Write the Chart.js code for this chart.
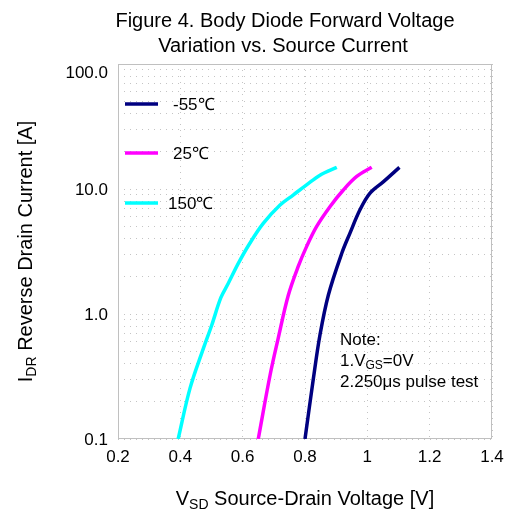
<!DOCTYPE html>
<html>
<head>
<meta charset="utf-8">
<script src="https://cdn.jsdelivr.net/npm/chart.js@4/dist/chart.umd.min.js"></script>
<style>
  html, body { margin: 0; padding: 0; background: #fff; }
  #wrap { width: 506px; height: 514px; }
</style>
</head>
<body>
<div id="wrap"><canvas id="chart" width="506" height="514"></canvas></div>
<script>
// series data: VSD [V] vs IDR [A]
const seriesNames = ['-55\u2103', '25\u2103', '150\u2103'];
const seriesColors = ['#000080', '#ff00ff', '#00ffff'];

const vsdCold = [0.800, 0.827, 0.848, 0.875, 0.918, 0.944, 0.976, 1.008, 1.051, 1.103];
const idrCold = [0.10, 0.306, 0.679, 1.42, 3.06, 4.42, 6.79, 9.23, 11.4, 14.9];

const vsdRoom = [0.650, 0.688, 0.714, 0.746, 0.778, 0.805, 0.837, 0.880, 0.923, 0.966, 1.014];
const idrRoom = [0.10, 0.325, 0.639, 1.40, 2.39, 3.46, 5.0, 7.22, 9.82, 12.6, 14.9];

const vsdHot = [0.393, 0.431, 0.474, 0.501, 0.530, 0.554, 0.586, 0.623, 0.666, 0.720, 0.762, 0.805, 0.848, 0.902];
const idrHot = [0.10, 0.254, 0.531, 0.817, 1.35, 1.76, 2.54, 3.68, 5.31, 7.45, 8.95, 10.8, 12.9, 14.9];

// axis ticks
const xTickValues = [0.2, 0.4, 0.6, 0.8, 1.0, 1.2, 1.4];
const xTickLabels = ['0.2', '0.4', '0.6', '0.8', '1', '1.2', '1.4'];
const yDecades = [0.1, 1, 10, 100];
const yDecadeLabels = ['0.1', '1.0', '10.0', '100.0'];
const yMinorFactors = [2, 3, 4, 5, 6, 7, 8, 9];

const FONT = 'Arial, "Liberation Sans", sans-serif';

function toPoints(xs, ys) {
    return xs.map((x, i) => ({ x: x, y: ys[i] }));
}

// all log grid positions (decades plus minor steps)
const yTickValues = [];
yDecades.forEach((d, i) => {
    yTickValues.push(d);
    if (i < yDecades.length - 1) {
        yMinorFactors.forEach(f => yTickValues.push(+(d * f).toPrecision(3)));
    }
});

// draw a run of text pieces, some of them subscripts
function drawParts(ctx, parts, x, y, size) {
    let cx = x;
    parts.forEach(p => {
        const s = p.sub ? Math.round(size * 0.68) : size;
        ctx.font = s + 'px ' + FONT;
        ctx.fillText(p.t, cx, y + (p.sub ? size * 0.2 : 0));
        cx += ctx.measureText(p.t).width;
    });
    return cx - x;
}
function partsWidth(ctx, parts, size) {
    let w = 0;
    parts.forEach(p => {
        const s = p.sub ? Math.round(size * 0.68) : size;
        ctx.font = s + 'px ' + FONT;
        w += ctx.measureText(p.t).width;
    });
    return w;
}

const decorPlugin = {
    id: 'decor',
    beforeDatasetsDraw(chart) {
        // plot frame
        const a = chart.chartArea;
        const ctx = chart.ctx;
        ctx.save();
        ctx.strokeStyle = '#c0c0c0';
        ctx.lineWidth = 1;
        ctx.setLineDash([]);
        ctx.strokeRect(a.left + 0.5, a.top + 0.5, a.right - a.left - 1, a.bottom - a.top - 1);
        ctx.restore();
    },
    afterDraw(chart) {
        const ctx = chart.ctx;
        const a = chart.chartArea;
        const yScale = chart.scales.y;
        ctx.save();
        ctx.fillStyle = '#000';
        ctx.textBaseline = 'alphabetic';

        // y tick labels (top one kept inside like the original)
        ctx.textAlign = 'right';
        ctx.font = '17px ' + FONT;
        yDecades.forEach((d, i) => {
            const py = Math.max(yScale.getPixelForValue(d), a.top + 8);
            ctx.fillText(yDecadeLabels[i], a.left - 10, py + 6);
        });

        // title
        ctx.textAlign = 'center';
        ctx.font = '20px ' + FONT;
        ctx.fillText('Figure 4. Body Diode Forward Voltage', 285, 27);
        ctx.fillText('Variation vs. Source Current', 283, 52);

        // x axis title
        ctx.textAlign = 'left';
        const xt = [{ t: 'V' }, { t: 'SD', sub: true }, { t: ' Source-Drain Voltage [V]' }];
        const xw = partsWidth(ctx, xt, 20);
        drawParts(ctx, xt, (a.left + a.right) / 2 - xw / 2, 505, 20);

        // y axis title (rotated)
        const yt = [{ t: 'I' }, { t: 'DR', sub: true }, { t: ' Reverse Drain Current [A]' }];
        const yw = partsWidth(ctx, yt, 20);
        ctx.save();
        ctx.translate(32, (a.top + a.bottom) / 2);
        ctx.rotate(-Math.PI / 2);
        drawParts(ctx, yt, -yw / 2, 0, 20);
        ctx.restore();

        // legend inside the plot
        const legendY = [104, 153, 203];
        const legendTextX = [173, 173, 168];
        chart.data.datasets.forEach((ds, i) => {
            ctx.strokeStyle = ds.borderColor;
            ctx.lineWidth = 3.5;
            ctx.beginPath();
            ctx.moveTo(125, legendY[i]);
            ctx.lineTo(158, legendY[i]);
            ctx.stroke();
            ctx.font = '17px ' + FONT;
            ctx.fillStyle = '#000';
            ctx.fillText(ds.label, legendTextX[i], legendY[i] + 6);
        });

        // note
        ctx.font = '17px ' + FONT;
        ctx.fillText('Note:', 340, 345);
        drawParts(ctx, [{ t: '1.V' }, { t: 'GS', sub: true }, { t: '=0V' }], 340, 366, 17);
        ctx.font = '17px ' + FONT;
        ctx.fillText('2.250\u03bcs pulse test', 340, 387);
        ctx.restore();
    }
};

new Chart(document.getElementById('chart'), {
    type: 'line',
    data: {
        datasets: [
            { label: seriesNames[0], data: toPoints(vsdCold, idrCold), borderColor: seriesColors[0] },
            { label: seriesNames[1], data: toPoints(vsdRoom, idrRoom), borderColor: seriesColors[1] },
            { label: seriesNames[2], data: toPoints(vsdHot, idrHot), borderColor: seriesColors[2] }
        ]
    },
    options: {
        responsive: false,
        animation: false,
        layout: { padding: { left: 0, top: 64, right: 14, bottom: 0 } },
        elements: {
            line: { borderWidth: 3.5, tension: 0.35, fill: false },
            point: { radius: 0 }
        },
        plugins: {
            legend: { display: false },
            tooltip: { enabled: false }
        },
        scales: {
            x: {
                type: 'linear',
                min: 0.2,
                max: 1.4,
                afterBuildTicks: s => { s.ticks = xTickValues.map(v => ({ value: v })); },
                afterFit: s => { s.height = 75; s.paddingLeft = 0; s.paddingRight = 0; },
                ticks: {
                    padding: 8,
                    color: '#000',
                    font: { family: FONT, size: 17 },
                    maxRotation: 0,
                    callback: (v, i) => xTickLabels[i]
                },
                grid: { color: '#c4c4c4', drawTicks: false, borderDash: [1, 5] },
                border: { display: false, dash: [1, 5] }
            },
            y: {
                type: 'logarithmic',
                min: 0.1,
                max: 100,
                afterBuildTicks: s => { s.ticks = yTickValues.map(v => ({ value: v })); },
                afterFit: s => { s.width = 118; s.paddingTop = 0; s.paddingBottom = 0; },
                ticks: {
                    display: false,
                    autoSkip: false
                },
                grid: { color: '#c4c4c4', drawTicks: false, borderDash: [1, 5] },
                border: { display: false, dash: [1, 5] }
            }
        }
    },
    plugins: [decorPlugin]
});
</script>
</body>
</html>
